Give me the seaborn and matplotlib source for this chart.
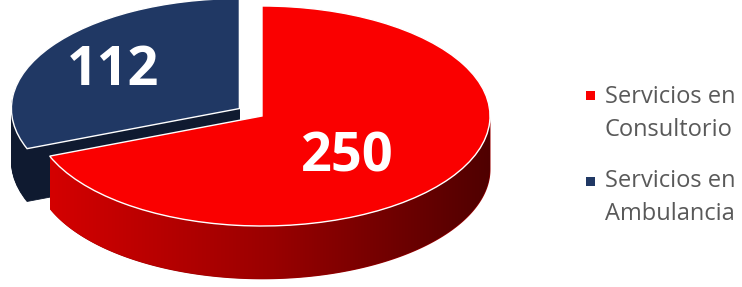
import numpy as np
import matplotlib
matplotlib.use("Agg")
import matplotlib.pyplot as plt
from matplotlib.patches import Rectangle
import seaborn as sns

sns.set_style("white")
plt.rcParams["font.family"] = ["Open Sans", "DejaVu Sans"]

# Data
values = [250, 112]
labels = ["Servicios en\nConsultorio", "Servicios en\nAmbulancia"]
top_colors = ["#fa0000", "#203864"]
blue_side = "#0f1a30"
red_side = ["#d40000", "#9a0000", "#4f0000"]
explode = [0, 0.12]

# Layout in pixels (pie center and ellipse radii)
W, H = 742, 287
cx, cy = 262, 116
rx, ry = 228, 110
depth = 0.48  # thickness of the pie, in y units

fig = plt.figure(figsize=(W / 100, H / 100), dpi=100)
ax = fig.add_axes([0, 0, 1, 1])

pie_kw = dict(startangle=90, counterclock=False, explode=explode)

# Blue slice side: stacked copies going down
for z in np.linspace(depth, 0, 50, endpoint=False):
    wedges, _ = ax.pie(values, center=(0, -z), colors=[blue_side, blue_side],
                       wedgeprops=dict(edgecolor=blue_side, lw=0.6, zorder=1), **pie_kw)
    wedges[0].set_visible(False)

# Red slice side: front rim with horizontal gradient
frac = values[0] / sum(values)
theta = np.linspace(np.deg2rad(90 - 360 * frac), 0, 300)
xs, ys = np.cos(theta), np.sin(theta)
side = ax.fill_between(xs, ys - depth, ys, color=red_side[1], lw=0, zorder=2)
cmap = sns.blend_palette(red_side, as_cmap=True)
im = ax.imshow(np.linspace(0, 1, 256)[None, :], cmap=cmap, aspect="auto",
               extent=[xs.min(), xs.max(), ys.min() - depth, ys.max()], zorder=2.1)
im.set_clip_path(side.get_paths()[0], transform=ax.transData)

# Top surfaces
wedges, _ = ax.pie(values, colors=top_colors,
                   wedgeprops=dict(edgecolor="white", lw=1, zorder=3), **pie_kw)

# Value labels (px positions -> data)
label_px = [(347, 172), (113, 85)]
for v, (px, py) in zip(values, label_px):
    ax.text((px - cx) / rx, (cy - py) / ry, str(v), ha="center", va="baseline",
            color="white", fontsize=39, fontweight="bold", zorder=5)

ax.set_aspect("auto")
ax.set_xlim(-cx / rx, (W - cx) / rx)
ax.set_ylim(-(H - cy) / ry, cy / ry)
ax.axis("off")

# Legend
for i, (lab, col) in enumerate(zip(labels, top_colors)):
    top = 91 + i * 86
    fig.add_artist(Rectangle((586 / W, 1 - (top + 9) / H), 9 / W, 9 / H,
                             transform=fig.transFigure, color=col, lw=0))
    for j, line in enumerate(lab.split("\n")):
        fig.text(605 / W, 1 - (103 + i * 84 + j * 33) / H, line, ha="left",
                 va="baseline", fontsize=17, color="#595959")

fig.savefig("out.png", dpi=100)
